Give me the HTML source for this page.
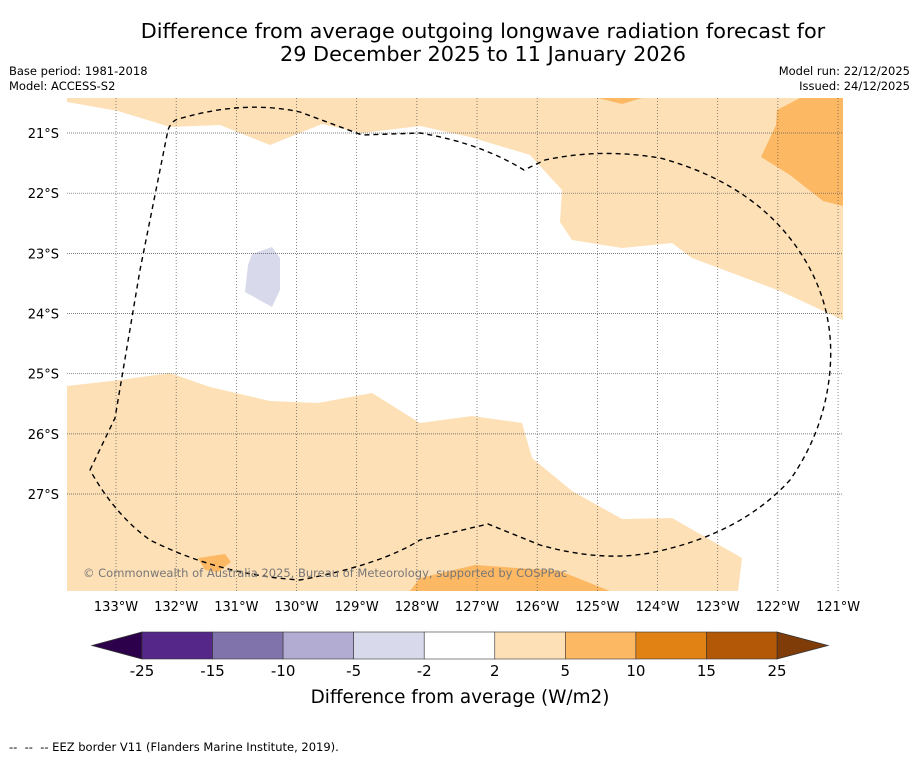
<!DOCTYPE html>
<html><head><meta charset="utf-8"><style>
body{margin:0;background:#fff;}
svg{font-family:"DejaVu Sans","Liberation Sans",sans-serif;}
</style></head><body>
<svg width="919" height="758" xmlns="http://www.w3.org/2000/svg">
<text x="483" y="38" font-size="20.8" text-anchor="middle">Difference from average outgoing longwave radiation forecast for</text>
<text x="483" y="61" font-size="20.8" text-anchor="middle">29 December 2025 to 11 January 2026</text>
<text x="9" y="75" font-size="11.5">Base period: 1981-2018</text>
<text x="9" y="90" font-size="11.5">Model: ACCESS-S2</text>
<text x="910" y="75" font-size="11.5" text-anchor="end">Model run: 22/12/2025</text>
<text x="910" y="90" font-size="11.5" text-anchor="end">Issued: 24/12/2025</text>
<defs><clipPath id="mc"><rect x="67" y="98" width="776" height="493"/></clipPath></defs>
<g clip-path="url(#mc)">
<polygon fill="#fee0b6" points="67,98 67,102 118,111 170,127 220,125 270,145 322,124 362,133 420,126 470,137 530,155 562,190 560,222 572,240 622,248 672,243 692,258 780,291 843,320 843,98"/>
<polygon fill="#fdb863" points="800,98 843,98 843,206 823,201 790,175 761,157 776,125 777,110"/>
<polygon fill="#fdb863" points="598,98 642,98 622,104"/>
<polygon fill="#d8daeb" points="252,254 272,247 280,258 280,290 272,307 245,292 248,265"/>
<polygon fill="#fee0b6" points="67,386 120,380 170,373 210,387 270,401 318,403 372,393 420,423 472,416 522,423 532,458 572,491 622,519 672,518 742,558 738,591 67,591"/>
<polygon fill="#fdb863" points="410,591 420,578 475,565 560,571 610,591"/>
<polygon fill="#fdb863" points="198,558 225,554 231,562 218,572 205,570"/>
<g id="grid"></g>
<path fill="none" stroke="#000" stroke-width="1.4" stroke-dasharray="5,4" d="M90,470 L115,418 L140,270 L168,130 Q172,119 182,118 Q245,100 300,112 L362,135 L420,133 Q480,143 524,170 L545,160 Q600,148 660,158 Q760,185 805,260 Q835,310 830,370 Q825,430 790,480 Q740,535 650,553 Q600,562 540,545 L488,524 L420,540 Q380,565 300,580 Q220,575 150,540 Q115,515 90,470"/>
<text x="83" y="577" font-size="11.5" fill="#777">© Commonwealth of Australia 2025, Bureau of Meteorology, supported by COSPPac</text>
</g>
<g id="axes"></g>
<g id="cbar"></g>
<text x="460" y="703" font-size="18.4" text-anchor="middle">Difference from average (W/m2)</text>
<text x="9" y="751" font-size="11.5" xml:space="preserve">--  --  -- EEZ border V11 (Flanders Marine Institute, 2019).</text>
</svg>
<script>
const lonTicks=[-133,-132,-131,-130,-129,-128,-127,-126,-125,-124,-123,-122,-121];
const latTicks=[-21,-22,-23,-24,-25,-26,-27];
const cbLevels=["-25","-15","-10","-5","-2","2","5","10","15","25"];
const cbColors=["#542788","#8073ac","#b2abd2","#d8daeb","#ffffff","#fee0b6","#fdb863","#e08214","#b35806"];
const NS="http://www.w3.org/2000/svg";
const xs=lon=>116+(lon+133)*60.17;
const ys=lat=>133+(-21-lat)*60.17;
function mk(t,a,p){const e=document.createElementNS(NS,t);for(const k in a)e.setAttribute(k,a[k]);p.appendChild(e);return e;}
const grid=document.getElementById('grid'),axes=document.getElementById('axes'),cb=document.getElementById('cbar');
lonTicks.forEach(l=>{const x=xs(l);
const g=mk('line',{x1:x,x2:x,y1:98,y2:591,stroke:'#555','stroke-width':0.7,'stroke-dasharray':'1,2'},grid);

const t=mk('text',{x:x,y:611,'font-size':13,'text-anchor':'middle'},axes);t.textContent=Math.abs(l)+'°W';
});
latTicks.forEach(l=>{const y=ys(l);
const g=mk('line',{x1:67,x2:843,y1:y,y2:y,stroke:'#555','stroke-width':0.7,'stroke-dasharray':'1,1'},grid);

const t=mk('text',{x:59,y:y+5,'font-size':13,'text-anchor':'end'},axes);t.textContent=Math.abs(l)+'°S';
});
const cx0=142,cx1=777,cy=632,ch=27,w=(cx1-cx0)/cbColors.length;
const lt=mk('polygon',{points:`${cx0},${cy} ${cx0},${cy+ch} 92,${cy+ch/2}`,fill:'#2d004b',stroke:'#333','stroke-width':0.8},cb);

const rt=mk('polygon',{points:`${cx1},${cy} ${cx1},${cy+ch} 828,${cy+ch/2}`,fill:'#7f3b08',stroke:'#333','stroke-width':0.8},cb);

cbColors.forEach((c,i)=>{const r=mk('rect',{x:cx0+i*w,y:cy,width:w,height:ch,fill:c,stroke:'#333','stroke-width':0.6},cb);
});
cbLevels.forEach((s,i)=>{const t=mk('text',{x:cx0+i*w,y:676,'font-size':15,'text-anchor':'middle'},cb);t.textContent=s;
});
</script>
</body></html>
